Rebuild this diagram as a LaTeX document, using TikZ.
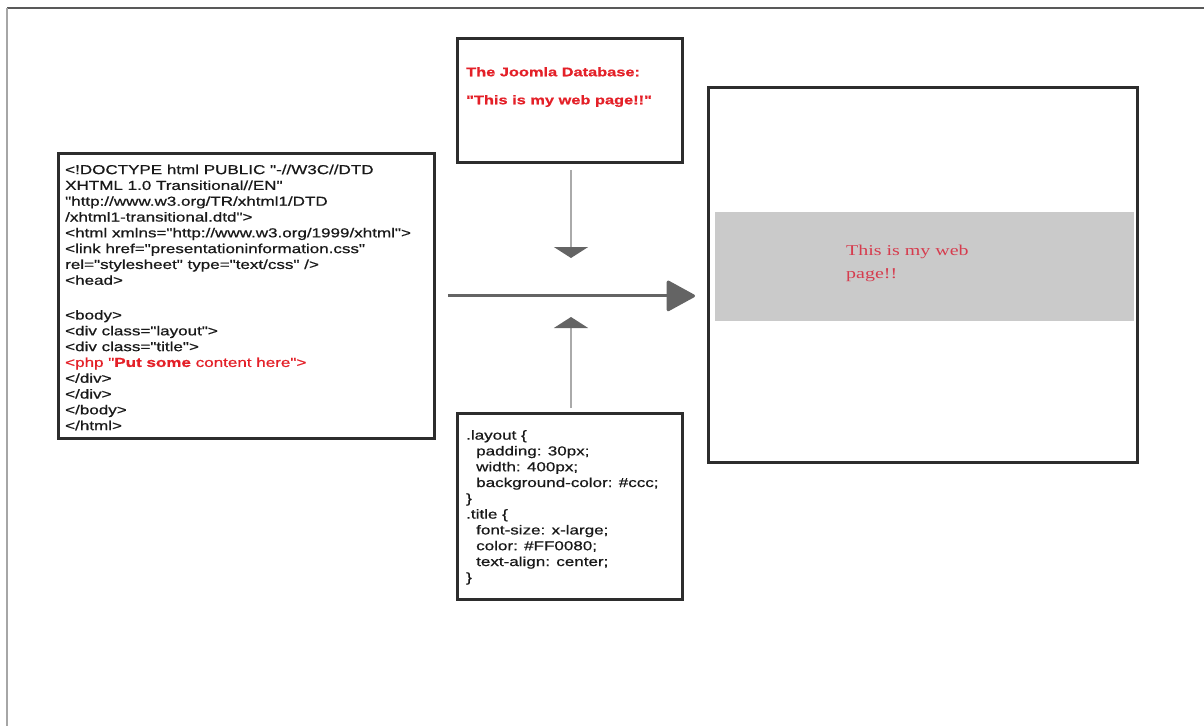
\documentclass[tikz,border=0pt]{standalone}
\usepackage{fontspec}
\usetikzlibrary{arrows.meta,shadows}
\newfontfamily\codefont[FakeStretch=1.31,FakeBold=0.7]{Liberation Sans}
\newfontfamily\pagefont[FakeStretch=1.33]{Liberation Serif}
\definecolor{codered}{RGB}{228,32,40}
\definecolor{pagered}{RGB}{214,60,78}
\definecolor{boxline}{RGB}{45,45,45}
\definecolor{bandgray}{RGB}{202,202,202}
\definecolor{arrowdark}{RGB}{100,100,100}
\definecolor{arrowlight}{RGB}{170,170,170}
\begin{document}
\begin{tikzpicture}[x=1pt,y=-1pt,
  box/.style={draw=boxline, line width=2.8pt, fill=white, rectangle, inner sep=0pt,
    anchor=north west, drop shadow={shadow xshift=2pt, shadow yshift=-2pt, opacity=0.4}},
  codetext/.style={font=\codefont\fontsize{13}{15.8}\selectfont, align=left,
    anchor=north west, inner sep=0pt, text=black!90},
  mainarrow/.style={draw=arrowdark, line width=3pt,
    -{Triangle[length=30pt,width=32pt,round]}},
  sidearrow/.style={draw=arrowlight, line width=2pt,
    -{Triangle[length=11pt,width=34pt,color=arrowdark]}}]
\useasboundingbox (0,0) rectangle (1204,726);
% page frame
\draw[draw=black!65, line width=1.5pt] (7,8) -- (1204,8);
\draw[draw=black!35, line width=2pt] (7,8) -- (7,726);

% boxes
\node[box, minimum width=376pt, minimum height=285pt] (html) at (57,152) {};
\node[box, minimum width=225pt, minimum height=124pt] (joomla) at (456,37) {};
\node[box, minimum width=225pt, minimum height=186pt] (css) at (456,412) {};
\node[box, minimum width=429pt, minimum height=375pt] (page) at (707,86) {};
\fill[bandgray] (715,212) rectangle (1134,321);

% texts
\node[codetext] (htmltext) at (65,164.5) {%
<!DOCTYPE html PUBLIC "-//W3C//DTD\\
XHTML 1.0 Transitional//EN"\\
"http://www.w3.org/TR/xhtml1/DTD\\
/xhtml1-transitional.dtd">\\
<html xmlns="http://www.w3.org/1999/xhtml">\\
<link href="presentationinformation.css"\\
rel="stylesheet" type="text/css" />\\
<head>\\[19pt]
<body>\\
<div class="layout">\\
<div class="title">\\
\textcolor{codered}{<php "\textbf{Put some} content here">}\\
</div>\\
</div>\\
</body>\\
</html>};

\node[anchor=north west, inner sep=0pt, align=left, text=codered,
  font=\codefont\bfseries\fontsize{12.5}{28}\selectfont] (dbtext) at (466,67) {%
The Joomla Database:\\
"This is my web page!!"};

\node[codetext] (csstext) at (466,430) {%
.layout \{\\
\hspace*{10pt}padding: 30px;\\
\hspace*{10pt}width: 400px;\\
\hspace*{10pt}background-color: \#ccc;\\
\}\\
.title \{\\
\hspace*{10pt}font-size: x-large;\\
\hspace*{10pt}color: \#FF0080;\\
\hspace*{10pt}text-align: center;\\
\}};

\node[anchor=north west, inner sep=0pt, align=left, text=pagered,
  font=\pagefont\fontsize{15}{23}\selectfont] (pagetext) at (846,245) {%
This is my web\\
page!!};

% connectors
\coordinate (dtip) at (571,258);
\coordinate (utip) at (571,317);
\draw[mainarrow, shorten <=12pt, shorten >=12pt] (html.east) -- (html.east -| page.west);
\draw[sidearrow] (joomla.south -| dtip) ++(0,6) -- (dtip);
\draw[sidearrow] (css.north -| utip) ++(0,-4) -- (utip);
\end{tikzpicture}
\end{document}
